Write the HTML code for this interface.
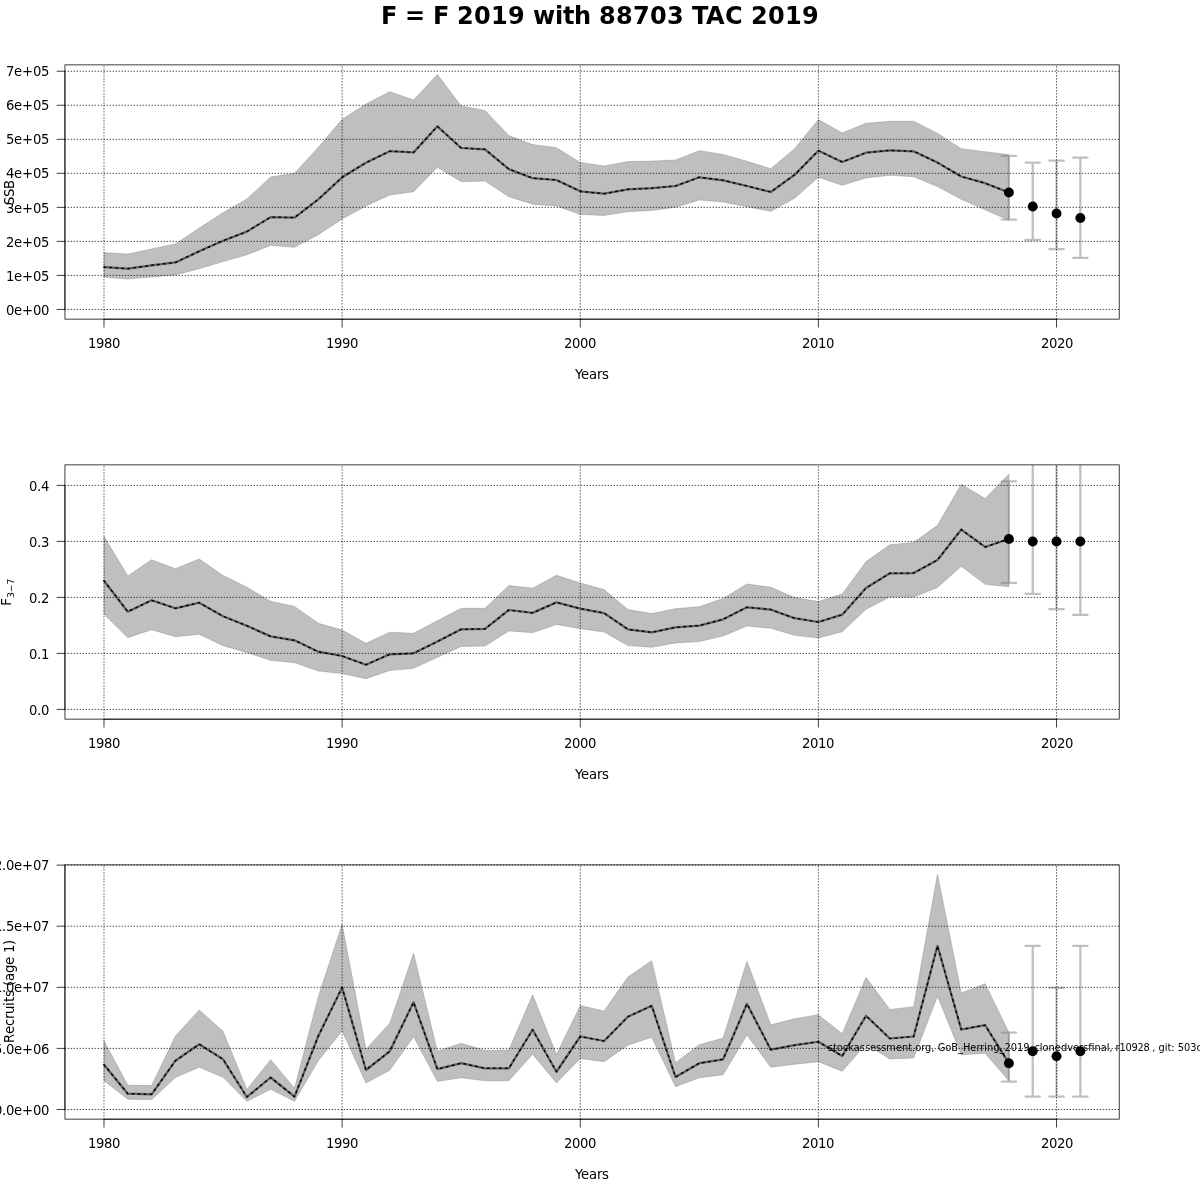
<!DOCTYPE html>
<html><head><meta charset="utf-8"><title>F = F 2019 with 88703 TAC 2019</title>
<style>html,body{margin:0;padding:0;background:#fff}svg{display:block}text{font-family:"DejaVu Sans","Liberation Sans",sans-serif;fill:#000}.n{letter-spacing:-.28px}.t{font-size:13.20px}.g{stroke:#000;stroke-width:.75;stroke-dasharray:1.3 1.7;stroke-dashoffset:.3;fill:none}.b{stroke:#000;stroke-width:.75;stroke-linecap:round;stroke-linejoin:round;fill:none}.e{stroke:rgb(128,128,128);stroke-opacity:.5;stroke-width:2.25;stroke-linecap:round;fill:none}</style></head><body>
<svg width="1200" height="1200" viewBox="0 0 1200 1200">
<rect width="1200" height="1200" fill="#fff"/>
<text style="font-size:24px;font-weight:bold" x="381 397 405 425 433 449 457 474 491 508 525 533 555 563 574 591 599 616 633 650 667 684 692 706 725 743 751 768 785 802" y="24">F = F 2019 with 88703 TAC 2019</text>
<clipPath id="c0"><rect x="64.94" y="64.94" width="1054.28" height="254.28"/></clipPath>
<g clip-path="url(#c0)">
<polygon points="103.99,252.70 127.80,254.00 151.62,248.90 175.43,244.00 199.24,228.00 223.06,212.70 246.87,199.00 270.69,177.10 294.50,173.30 318.31,147.30 342.13,119.30 365.94,104.00 389.75,91.70 413.57,100.00 437.38,74.40 461.19,106.00 485.01,110.40 508.82,135.60 532.63,144.50 556.45,147.70 580.26,162.40 604.08,166.00 627.89,161.60 651.70,161.10 675.52,160.00 699.33,150.70 723.14,154.40 746.96,161.30 770.77,168.70 794.58,148.70 818.40,119.60 842.21,132.90 866.03,123.30 889.84,121.30 913.65,121.30 937.47,133.30 961.28,148.70 985.09,151.70 1008.91,154.70 1008.91,220.30 985.09,209.80 961.28,199.30 937.47,186.60 913.65,176.70 889.84,175.30 866.03,178.00 842.21,185.30 818.40,177.30 794.58,198.20 770.77,211.30 746.96,206.70 723.14,202.00 699.33,200.00 675.52,207.30 651.70,210.40 627.89,211.70 604.08,215.50 580.26,214.40 556.45,206.00 532.63,204.20 508.82,196.70 485.01,181.10 461.19,181.70 437.38,167.30 413.57,191.70 389.75,195.00 365.94,206.00 342.13,219.10 318.31,234.70 294.50,247.30 270.69,245.30 246.87,254.80 223.06,261.60 199.24,268.70 175.43,274.90 151.62,276.90 127.80,279.10 103.99,277.30" fill="#bfbfbf" stroke="#808080" stroke-opacity=".5" stroke-width=".75" stroke-linejoin="round"/>
<polyline points="103.99,267.10 127.80,268.70 151.62,265.30 175.43,262.40 199.24,251.30 223.06,240.70 246.87,231.60 270.69,217.10 294.50,217.60 318.31,199.30 342.13,177.30 365.94,162.70 389.75,151.20 413.57,152.40 437.38,126.30 461.19,148.00 485.01,149.30 508.82,169.10 532.63,178.20 556.45,180.00 580.26,191.30 604.08,193.70 627.89,189.30 651.70,188.20 675.52,186.00 699.33,177.30 723.14,180.30 746.96,186.00 770.77,192.00 794.58,174.90 818.40,150.70 842.21,162.00 866.03,152.70 889.84,150.40 913.65,151.30 937.47,162.60 961.28,176.50 985.09,183.20 1008.91,192.50" fill="none" stroke="#5e5e5e" stroke-width="2.25" stroke-linejoin="round"/>
<polyline points="103.99,267.10 127.80,268.70 151.62,265.30 175.43,262.40 199.24,251.30 223.06,240.70 246.87,231.60 270.69,217.10 294.50,217.60 318.31,199.30 342.13,177.30 365.94,162.70 389.75,151.20 413.57,152.40 437.38,126.30 461.19,148.00 485.01,149.30 508.82,169.10 532.63,178.20 556.45,180.00 580.26,191.30 604.08,193.70 627.89,189.30 651.70,188.20 675.52,186.00 699.33,177.30 723.14,180.30 746.96,186.00 770.77,192.00 794.58,174.90 818.40,150.70 842.21,162.00 866.03,152.70 889.84,150.40 913.65,151.30 937.47,162.60 961.28,176.50 985.09,183.20 1008.91,192.50" fill="none" stroke="#000" stroke-width="1.5" stroke-dasharray="1.5 4.5" stroke-linecap="round" stroke-linejoin="round"/>
<path class="e" d="M1008.91 155.75V219.50M1001.71 155.75H1016.11M1001.71 219.50H1016.11"/>
<path class="e" d="M1032.72 162.50V239.75M1025.52 162.50H1039.92M1025.52 239.75H1039.92"/>
<path class="e" d="M1056.53 160.55V249.00M1049.33 160.55H1063.73M1049.33 249.00H1063.73"/>
<path class="e" d="M1080.35 157.70V257.75M1073.15 157.70H1087.55M1073.15 257.75H1087.55"/>
<circle cx="1008.91" cy="192.50" r="4.95"/>
<circle cx="1032.72" cy="206.45" r="4.95"/>
<circle cx="1056.53" cy="213.50" r="4.95"/>
<circle cx="1080.35" cy="218.00" r="4.95"/>
</g>
<path class="g" d="M103.99 319.22V64.94"/>
<path class="g" d="M342.13 319.22V64.94"/>
<path class="g" d="M580.26 319.22V64.94"/>
<path class="g" d="M818.40 319.22V64.94"/>
<path class="g" d="M1056.53 319.22V64.94"/>
<path class="g" d="M64.94 309.45H1119.22"/>
<path class="g" d="M64.94 275.42H1119.22"/>
<path class="g" d="M64.94 241.39H1119.22"/>
<path class="g" d="M64.94 207.36H1119.22"/>
<path class="g" d="M64.94 173.33H1119.22"/>
<path class="g" d="M64.94 139.30H1119.22"/>
<path class="g" d="M64.94 105.27H1119.22"/>
<path class="g" d="M64.94 71.24H1119.22"/>
<path fill="#000" fill-rule="evenodd" d="M64.565 64.565H1119.595V319.595H64.565ZM65.315 65.315H1118.845V318.845H65.315Z"/>
<path class="b" d="M103.99 319.22H1056.53"/>
<path class="b" d="M103.99 319.22v7.92"/>
<text class="t" x="88 96 104 112" y="348">1980</text>
<path class="b" d="M342.13 319.22v7.92"/>
<text class="t" x="326 334 342 350" y="348">1990</text>
<path class="b" d="M580.26 319.22v7.92"/>
<text class="t" x="564 572 580 588" y="348">2000</text>
<path class="b" d="M818.40 319.22v7.92"/>
<text class="t" x="802 810 818 826" y="348">2010</text>
<path class="b" d="M1056.53 319.22v7.92"/>
<text class="t" x="1041 1049 1057 1065" y="348">2020</text>
<path class="b" d="M64.94 309.45V71.24"/>
<path class="b" d="M64.94 309.45h-7.92"/>
<text class="t" x="6 14 22 33 41" y="315">0e+00</text>
<path class="b" d="M64.94 275.42h-7.92"/>
<text class="t" x="6 14 22 33 41" y="281">1e+05</text>
<path class="b" d="M64.94 241.39h-7.92"/>
<text class="t" x="6 14 22 33 41" y="247">2e+05</text>
<path class="b" d="M64.94 207.36h-7.92"/>
<text class="t" x="6 14 22 33 41" y="213">3e+05</text>
<path class="b" d="M64.94 173.33h-7.92"/>
<text class="t" x="6 14 22 33 41" y="178">4e+05</text>
<path class="b" d="M64.94 139.30h-7.92"/>
<text class="t" x="6 14 22 33 41" y="144">5e+05</text>
<path class="b" d="M64.94 105.27h-7.92"/>
<text class="t" x="6 14 22 33 41" y="110">6e+05</text>
<path class="b" d="M64.94 71.24h-7.92"/>
<text class="t" x="6 14 22 33 41" y="76">7e+05</text>
<text class="t" x="575 581 589 597 602" y="379">Years</text>
<text class="t" transform="translate(14 205) rotate(-90)" x="0 8 16">SSB</text>
<clipPath id="c1"><rect x="64.94" y="464.94" width="1054.28" height="254.28"/></clipPath>
<g clip-path="url(#c1)">
<polygon points="103.99,536.30 127.80,575.90 151.62,559.70 175.43,568.70 199.24,559.00 223.06,575.40 246.87,587.20 270.69,601.30 294.50,606.40 318.31,623.30 342.13,630.00 365.94,643.30 389.75,632.20 413.57,633.30 437.38,620.70 461.19,608.30 485.01,608.30 508.82,585.60 532.63,588.20 556.45,575.30 580.26,582.90 604.08,589.60 627.89,609.60 651.70,613.60 675.52,608.70 699.33,606.70 723.14,598.40 746.96,584.00 770.77,587.30 794.58,597.50 818.40,601.60 842.21,594.00 866.03,561.60 889.84,544.70 913.65,542.40 937.47,525.30 961.28,484.25 985.09,498.50 1008.91,474.20 1008.91,586.70 985.09,584.30 961.28,566.30 937.47,587.50 913.65,597.10 889.84,597.10 866.03,609.30 842.21,631.70 818.40,638.00 794.58,635.30 770.77,628.30 746.96,626.00 723.14,636.00 699.33,641.60 675.52,642.90 651.70,647.30 627.89,645.60 604.08,632.00 580.26,628.70 556.45,624.40 532.63,632.70 508.82,630.90 485.01,646.00 461.19,646.40 437.38,657.30 413.57,668.30 389.75,670.50 365.94,678.70 342.13,673.60 318.31,670.90 294.50,662.70 270.69,660.30 246.87,652.50 223.06,645.70 199.24,634.30 175.43,636.70 151.62,629.70 127.80,637.70 103.99,614.30" fill="#bfbfbf" stroke="#808080" stroke-opacity=".5" stroke-width=".75" stroke-linejoin="round"/>
<polyline points="103.99,580.70 127.80,611.70 151.62,600.30 175.43,608.30 199.24,602.70 223.06,616.30 246.87,625.80 270.69,636.40 294.50,640.30 318.31,651.70 342.13,656.00 365.94,664.70 389.75,654.30 413.57,653.30 437.38,641.60 461.19,629.30 485.01,628.90 508.82,610.00 532.63,612.90 556.45,602.40 580.26,608.70 604.08,613.10 627.89,629.30 651.70,632.30 675.52,627.30 699.33,625.60 723.14,619.30 746.96,607.30 770.77,609.60 794.58,618.20 818.40,622.00 842.21,614.70 866.03,588.00 889.84,573.30 913.65,573.10 937.47,560.00 961.28,529.55 985.09,546.95 1008.91,539.00" fill="none" stroke="#5e5e5e" stroke-width="2.25" stroke-linejoin="round"/>
<polyline points="103.99,580.70 127.80,611.70 151.62,600.30 175.43,608.30 199.24,602.70 223.06,616.30 246.87,625.80 270.69,636.40 294.50,640.30 318.31,651.70 342.13,656.00 365.94,664.70 389.75,654.30 413.57,653.30 437.38,641.60 461.19,629.30 485.01,628.90 508.82,610.00 532.63,612.90 556.45,602.40 580.26,608.70 604.08,613.10 627.89,629.30 651.70,632.30 675.52,627.30 699.33,625.60 723.14,619.30 746.96,607.30 770.77,609.60 794.58,618.20 818.40,622.00 842.21,614.70 866.03,588.00 889.84,573.30 913.65,573.10 937.47,560.00 961.28,529.55 985.09,546.95 1008.91,539.00" fill="none" stroke="#000" stroke-width="1.5" stroke-dasharray="1.5 4.5" stroke-linecap="round" stroke-linejoin="round"/>
<path class="e" d="M1008.91 481.25V582.95M1001.71 481.25H1016.11M1001.71 582.95H1016.11"/>
<path class="e" d="M1032.72 400.00V593.75M1025.52 400.00H1039.92M1025.52 593.75H1039.92"/>
<path class="e" d="M1056.53 400.00V609.20M1049.33 400.00H1063.73M1049.33 609.20H1063.73"/>
<path class="e" d="M1080.35 400.00V614.90M1073.15 400.00H1087.55M1073.15 614.90H1087.55"/>
<circle cx="1008.91" cy="539.00" r="4.95"/>
<circle cx="1032.72" cy="541.55" r="4.95"/>
<circle cx="1056.53" cy="541.55" r="4.95"/>
<circle cx="1080.35" cy="541.55" r="4.95"/>
</g>
<path class="g" d="M103.99 719.22V464.94"/>
<path class="g" d="M342.13 719.22V464.94"/>
<path class="g" d="M580.26 719.22V464.94"/>
<path class="g" d="M818.40 719.22V464.94"/>
<path class="g" d="M1056.53 719.22V464.94"/>
<path class="g" d="M64.94 709.40H1119.22"/>
<path class="g" d="M64.94 653.40H1119.22"/>
<path class="g" d="M64.94 597.40H1119.22"/>
<path class="g" d="M64.94 541.40H1119.22"/>
<path class="g" d="M64.94 485.40H1119.22"/>
<path fill="#000" fill-rule="evenodd" d="M64.565 464.565H1119.595V719.595H64.565ZM65.315 465.315H1118.845V718.845H65.315Z"/>
<path class="b" d="M103.99 719.22H1056.53"/>
<path class="b" d="M103.99 719.22v7.92"/>
<text class="t" x="88 96 104 112" y="748">1980</text>
<path class="b" d="M342.13 719.22v7.92"/>
<text class="t" x="326 334 342 350" y="748">1990</text>
<path class="b" d="M580.26 719.22v7.92"/>
<text class="t" x="564 572 580 588" y="748">2000</text>
<path class="b" d="M818.40 719.22v7.92"/>
<text class="t" x="802 810 818 826" y="748">2010</text>
<path class="b" d="M1056.53 719.22v7.92"/>
<text class="t" x="1041 1049 1057 1065" y="748">2020</text>
<path class="b" d="M64.94 709.40V485.40"/>
<path class="b" d="M64.94 709.40h-7.92"/>
<text class="t" x="29 37 41" y="715">0.0</text>
<path class="b" d="M64.94 653.40h-7.92"/>
<text class="t" x="29 37 41" y="659">0.1</text>
<path class="b" d="M64.94 597.40h-7.92"/>
<text class="t" x="29 37 41" y="603">0.2</text>
<path class="b" d="M64.94 541.40h-7.92"/>
<text class="t" x="29 37 41" y="547">0.3</text>
<path class="b" d="M64.94 485.40h-7.92"/>
<text class="t" x="29 37 41" y="491">0.4</text>
<text class="t" x="575 581 589 597 602" y="779">Years</text>
<text class="t" transform="translate(10.7 592.08) rotate(-90)" text-anchor="middle">F<tspan dy="3.2" style="font-size:9.24px">3−7</tspan></text>
<clipPath id="c2"><rect x="64.94" y="864.94" width="1054.28" height="254.28"/></clipPath>
<g clip-path="url(#c2)">
<polygon points="103.99,1040.70 127.80,1085.30 151.62,1085.60 175.43,1036.00 199.24,1010.00 223.06,1031.30 246.87,1089.50 270.69,1059.70 294.50,1088.30 318.31,996.70 342.13,924.20 365.94,1049.20 389.75,1023.30 413.57,953.30 437.38,1051.20 461.19,1043.25 485.01,1050.45 508.82,1050.00 532.63,994.80 556.45,1054.50 580.26,1005.60 604.08,1011.00 627.89,976.95 651.70,960.75 675.52,1062.75 699.33,1044.75 723.14,1038.00 746.96,961.20 770.77,1024.80 794.58,1018.80 818.40,1014.75 842.21,1033.80 866.03,977.25 889.84,1009.50 913.65,1006.70 937.47,874.25 961.28,992.90 985.09,983.70 1008.91,1032.40 1008.91,1080.80 985.09,1053.30 961.28,1054.70 937.47,996.20 913.65,1058.00 889.84,1059.00 866.03,1044.00 842.21,1071.30 818.40,1061.70 794.58,1064.25 770.77,1067.25 746.96,1035.00 723.14,1074.75 699.33,1077.75 675.52,1086.75 651.70,1037.25 627.89,1045.20 604.08,1061.70 580.26,1058.50 556.45,1083.00 532.63,1054.20 508.82,1080.75 485.01,1080.75 461.19,1077.75 437.38,1081.40 413.57,1036.70 389.75,1070.30 365.94,1083.00 342.13,1031.00 318.31,1060.80 294.50,1101.30 270.69,1089.20 246.87,1101.30 223.06,1077.30 199.24,1067.30 175.43,1077.60 151.62,1099.60 127.80,1099.30 103.99,1080.70" fill="#bfbfbf" stroke="#808080" stroke-opacity=".5" stroke-width=".75" stroke-linejoin="round"/>
<polyline points="103.99,1064.70 127.80,1093.70 151.62,1094.30 175.43,1060.70 199.24,1044.30 223.06,1059.30 246.87,1097.00 270.69,1077.50 294.50,1096.70 318.31,1036.00 342.13,987.50 365.94,1070.00 389.75,1051.30 413.57,1002.20 437.38,1069.20 461.19,1063.20 485.01,1068.30 508.82,1068.30 532.63,1029.75 556.45,1071.75 580.26,1036.50 604.08,1041.00 627.89,1016.70 651.70,1005.75 675.52,1077.00 699.33,1063.20 723.14,1059.30 746.96,1003.80 770.77,1049.70 794.58,1045.20 818.40,1041.75 842.21,1056.00 866.03,1015.80 889.84,1038.50 913.65,1036.50 937.47,945.80 961.28,1029.50 985.09,1025.20 1008.91,1063.30" fill="none" stroke="#5e5e5e" stroke-width="2.25" stroke-linejoin="round"/>
<polyline points="103.99,1064.70 127.80,1093.70 151.62,1094.30 175.43,1060.70 199.24,1044.30 223.06,1059.30 246.87,1097.00 270.69,1077.50 294.50,1096.70 318.31,1036.00 342.13,987.50 365.94,1070.00 389.75,1051.30 413.57,1002.20 437.38,1069.20 461.19,1063.20 485.01,1068.30 508.82,1068.30 532.63,1029.75 556.45,1071.75 580.26,1036.50 604.08,1041.00 627.89,1016.70 651.70,1005.75 675.52,1077.00 699.33,1063.20 723.14,1059.30 746.96,1003.80 770.77,1049.70 794.58,1045.20 818.40,1041.75 842.21,1056.00 866.03,1015.80 889.84,1038.50 913.65,1036.50 937.47,945.80 961.28,1029.50 985.09,1025.20 1008.91,1063.30" fill="none" stroke="#000" stroke-width="1.5" stroke-dasharray="1.5 4.5" stroke-linecap="round" stroke-linejoin="round"/>
<path class="e" d="M1008.91 1032.50V1081.70M1001.71 1032.50H1016.11M1001.71 1081.70H1016.11"/>
<path class="e" d="M1032.72 945.80V1096.70M1025.52 945.80H1039.92M1025.52 1096.70H1039.92"/>
<path class="e" d="M1056.53 987.80V1096.70M1049.33 987.80H1063.73M1049.33 1096.70H1063.73"/>
<path class="e" d="M1080.35 945.80V1096.70M1073.15 945.80H1087.55M1073.15 1096.70H1087.55"/>
<circle cx="1008.91" cy="1063.30" r="4.95"/>
<circle cx="1032.72" cy="1051.20" r="4.95"/>
<circle cx="1056.53" cy="1056.20" r="4.95"/>
<circle cx="1080.35" cy="1051.20" r="4.95"/>
</g>
<path class="g" d="M103.99 1119.22V864.94"/>
<path class="g" d="M342.13 1119.22V864.94"/>
<path class="g" d="M580.26 1119.22V864.94"/>
<path class="g" d="M818.40 1119.22V864.94"/>
<path class="g" d="M1056.53 1119.22V864.94"/>
<path class="g" d="M64.94 1109.50H1119.22"/>
<path class="g" d="M64.94 1048.40H1119.22"/>
<path class="g" d="M64.94 987.30H1119.22"/>
<path class="g" d="M64.94 926.20H1119.22"/>
<path class="g" d="M64.94 865.10H1119.22"/>
<path fill="#000" fill-rule="evenodd" d="M64.565 864.565H1119.595V1119.595H64.565ZM65.315 865.315H1118.845V1118.845H65.315Z"/>
<path class="b" d="M103.99 1119.22H1056.53"/>
<path class="b" d="M103.99 1119.22v7.92"/>
<text class="t" x="88 96 104 112" y="1148">1980</text>
<path class="b" d="M342.13 1119.22v7.92"/>
<text class="t" x="326 334 342 350" y="1148">1990</text>
<path class="b" d="M580.26 1119.22v7.92"/>
<text class="t" x="564 572 580 588" y="1148">2000</text>
<path class="b" d="M818.40 1119.22v7.92"/>
<text class="t" x="802 810 818 826" y="1148">2010</text>
<path class="b" d="M1056.53 1119.22v7.92"/>
<text class="t" x="1041 1049 1057 1065" y="1148">2020</text>
<path class="b" d="M64.94 1109.50V865.10"/>
<path class="b" d="M64.94 1109.50h-7.92"/>
<text class="t" x="-6 2 6 14 22 33 41" y="1115">0.0e+00</text>
<path class="b" d="M64.94 1048.40h-7.92"/>
<text class="t" x="-6 2 6 14 22 33 41" y="1054">5.0e+06</text>
<path class="b" d="M64.94 987.30h-7.92"/>
<text class="t" x="-6 2 6 14 22 33 41" y="992">1.0e+07</text>
<path class="b" d="M64.94 926.20h-7.92"/>
<text class="t" x="-6 2 6 14 22 33 41" y="931">1.5e+07</text>
<path class="b" d="M64.94 865.10h-7.92"/>
<text class="t" x="-6 2 6 14 22 33 41" y="870">2.0e+07</text>
<text class="t" x="575 581 589 597 602" y="1179">Years</text>
<text class="t" transform="translate(14 1043) rotate(-90)" x="0 9 17 24 29 37 41 46 53 57 62 70 78 86 90 98">Recruits (age 1)</text>
<text x="827.8" y="1050.8" style="font-size:9.85px">stockassessment.org, GoB_Herring_2019_clonedversfinal, <tspan x="1115.6" style="letter-spacing:-.26px">r10928 </tspan><tspan>, git: 503c</tspan></text>
</svg></body></html>
